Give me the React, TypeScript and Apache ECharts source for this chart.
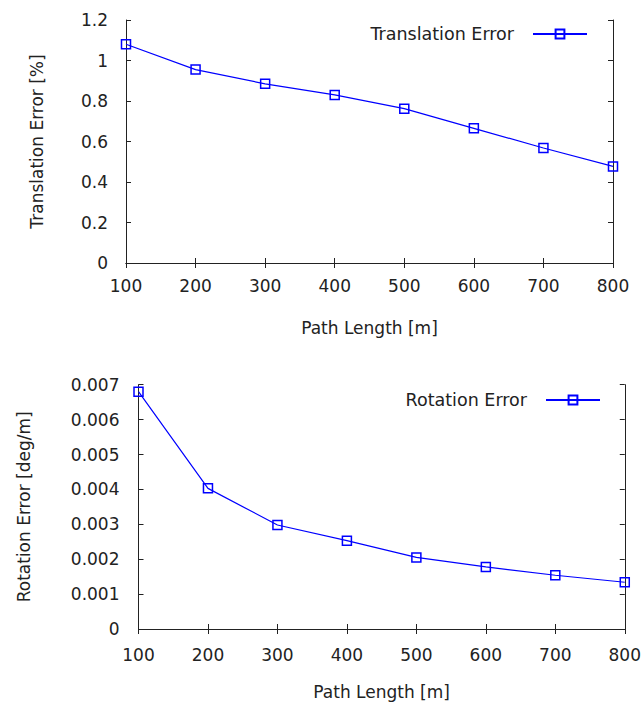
import React, { useEffect, useRef } from "react";
import * as echarts from "echarts";

const pathLengths = [100, 200, 300, 400, 500, 600, 700, 800];
const translationError = [1.08, 0.955, 0.885, 0.83, 0.762, 0.665, 0.568, 0.477];
const rotationError = [0.0068, 0.00403, 0.00298, 0.00253, 0.00205, 0.00178, 0.00154, 0.00134];

const xAxisTitle = "Path Length [m]";
const transTitle = "Translation Error [%]";
const rotTitle = "Rotation Error [deg/m]";
const transName = "Translation Error";
const rotName = "Rotation Error";

const FONT = "DejaVu Sans";
const TEXT = "#222";
const FRAME = "#222";
const BLUE = "#0000ff";

export default function App() {
  const ref = useRef<HTMLDivElement>(null);
  useEffect(() => {
    document.body.style.margin = "0";
    const chart = echarts.init(ref.current!, null, { renderer: "svg" });
    const axisLine = { show: true, lineStyle: { color: FRAME, width: 1 } };
    const tick = (len: number) => ({ show: true, inside: true, length: len, lineStyle: { color: FRAME, width: 1 } });
    const label = (margin: number) => ({ show: true, fontSize: 17, color: TEXT, fontFamily: FONT, margin });
    const xBase = { type: "value", min: 100, max: 800, interval: 100, splitLine: { show: false } };

    const seriesStyle = {
      type: "line",
      symbol: "rect",
      symbolSize: 9,
      color: BLUE,
      lineStyle: { color: BLUE, width: 1.2 },
      itemStyle: { color: "rgba(0,0,0,0)", borderColor: BLUE, borderWidth: 1.5 },
    };

    const legendText = { fontSize: 17.5, color: TEXT, fontFamily: FONT, padding: [0, 14, 0, 0] };

    chart.setOption({
      animation: false,
      backgroundColor: "#fff",
      textStyle: { fontFamily: FONT, color: TEXT },
      grid: [
        { left: 126, top: 20, width: 487, height: 243, show: false },
        { left: 138.5, top: 384.7, width: 488, height: 244.3, show: false },
      ],
      legend: [
        {
          data: [transName],
          right: 51,
          top: 20,
          align: "right",
          itemWidth: 54,
          itemHeight: 11,
          textStyle: legendText,
        },
        {
          data: [rotName],
          right: 38,
          top: 386,
          align: "right",
          itemWidth: 54,
          itemHeight: 11,
          textStyle: legendText,
        },
      ],
      xAxis: [
        {
          ...xBase,
          gridIndex: 0,
          position: "bottom",
          axisLine,
          axisTick: tick(5),
          axisLabel: label(14),
          name: xAxisTitle,
          nameLocation: "middle",
          nameGap: 56,
          nameTextStyle: { fontSize: 17, color: TEXT, fontFamily: FONT },
        },
        { ...xBase, gridIndex: 0, position: "top", axisLine, axisTick: tick(5), axisLabel: { show: false } },
        {
          ...xBase,
          gridIndex: 1,
          position: "bottom",
          axisLine,
          axisTick: tick(5),
          axisLabel: label(17),
          name: xAxisTitle,
          nameLocation: "middle",
          nameGap: 54,
          nameTextStyle: { fontSize: 17, color: TEXT, fontFamily: FONT },
        },
        { ...xBase, gridIndex: 1, position: "top", axisLine, axisTick: tick(5), axisLabel: { show: false } },
      ],
      yAxis: [
        {
          type: "value",
          gridIndex: 0,
          min: 0,
          max: 1.2,
          interval: 0.2,
          position: "left",
          splitLine: { show: false },
          axisLine,
          axisTick: tick(5),
          axisLabel: label(18),
          name: transTitle,
          nameLocation: "middle",
          nameGap: 81,
          nameTextStyle: { fontSize: 17, color: TEXT, fontFamily: FONT },
        },
        {
          type: "value",
          gridIndex: 0,
          min: 0,
          max: 1.2,
          interval: 0.2,
          position: "right",
          splitLine: { show: false },
          axisLine,
          axisTick: tick(5),
          axisLabel: { show: false },
        },
        {
          type: "value",
          gridIndex: 1,
          min: 0,
          max: 0.007,
          interval: 0.001,
          position: "left",
          splitLine: { show: false },
          axisLine,
          axisTick: tick(5),
          axisLabel: label(19),
          name: rotTitle,
          nameLocation: "middle",
          nameGap: 106,
          nameTextStyle: { fontSize: 17, color: TEXT, fontFamily: FONT },
        },
        {
          type: "value",
          gridIndex: 1,
          min: 0,
          max: 0.007,
          interval: 0.001,
          position: "right",
          splitLine: { show: false },
          axisLine,
          axisTick: tick(5),
          axisLabel: { show: false },
        },
      ],
      series: [
        {
          ...seriesStyle,
          name: transName,
          xAxisIndex: 0,
          yAxisIndex: 0,
          data: pathLengths.map((x, i) => [x, translationError[i]]),
        },
        {
          ...seriesStyle,
          name: rotName,
          xAxisIndex: 2,
          yAxisIndex: 2,
          data: pathLengths.map((x, i) => [x, rotationError[i]]),
        },
      ],
    });
    return () => chart.dispose();
  }, []);
  return <div ref={ref} style={{ width: 644, height: 706 }} />;
}
